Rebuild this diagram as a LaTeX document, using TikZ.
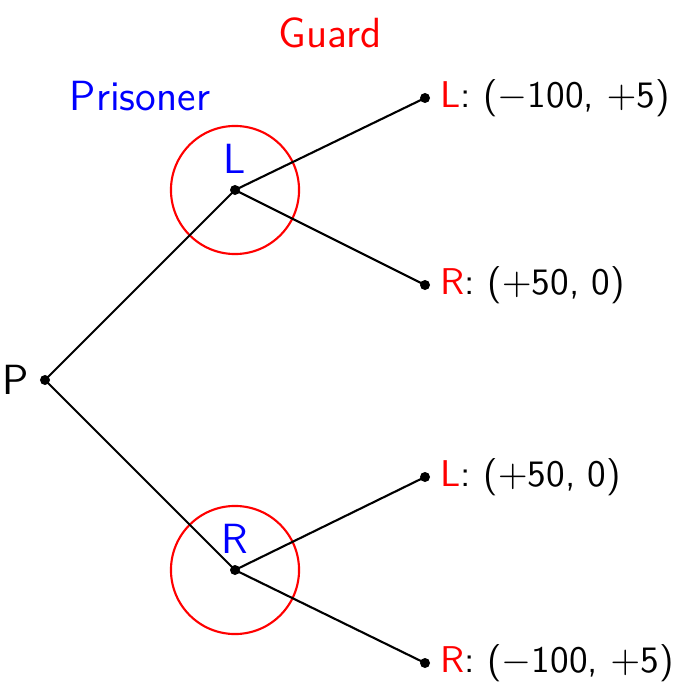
\documentclass[tikz,border=0pt]{standalone}
\usepackage{amsmath}
\usepackage{tikz}
\usetikzlibrary{positioning}

\begin{document}
\begin{tikzpicture}[
  x=0.01cm,y=-0.01cm,
  font=\large\sffamily,
  dot/.style={circle,fill=black,inner sep=0pt,minimum size=0.1cm},
  edge/.style={line width=0.6pt,black},
  infoset/.style={circle,draw=red,line width=0.6pt,minimum size=1.28cm,inner sep=0pt},
  player/.style={font=\large\sffamily,text=#1},
  payoff/.style={inner sep=0pt,anchor=west,font=\fontsize{10.6}{13}\selectfont\sffamily},
]
\useasboundingbox (0,0) rectangle (674,682);

% ==== PLAYERS ====
\node[player=red] (guard) at (330,33) {Guard};
\node[player=blue] (prisoner) at (140,96) {Prisoner};

% ==== PRISONER MOVE ====
\node[dot] (P) at (45,380) {};
\node[left=0.1cm of P,inner sep=0pt] (Plab) {P};

\node[dot] (L) at (235,190) {};
\node[dot] (R) at (235,570) {};
\node[player=blue,above=0.1cm of L,inner sep=0pt] (Llab) {L};
\node[player=blue,above=0.1cm of R,inner sep=0pt] (Rlab) {R};

% Guard's information sets
\node[infoset] (cL) at (L) {};
\node[infoset] (cR) at (R) {};

% ==== GUARD MOVES (leaves) ====
\node[dot] (LL) at (425,98) {};
\node[dot] (LR) at (425,285) {};
\node[dot] (RL) at (425,477) {};
\node[dot] (RR) at (425,663) {};

\node[payoff,right=0.09cm of LL] {\textcolor{red}{L}: (\(-\)100, \(+\)5)};
\node[payoff,right=0.09cm of LR] {\textcolor{red}{R}: (\(+\)50, 0)};
\node[payoff,right=0.09cm of RL] {\textcolor{red}{L}: (\(+\)50, 0)};
\node[payoff,right=0.09cm of RR] {\textcolor{red}{R}: (\(-\)100, \(+\)5)};

% Edges
\draw[edge] (P.center) -- (L.center);
\draw[edge] (P.center) -- (R.center);
\draw[edge] (L.center) -- (LL.center);
\draw[edge] (L.center) -- (LR.center);
\draw[edge] (R.center) -- (RL.center);
\draw[edge] (R.center) -- (RR.center);

\end{tikzpicture}
\end{document}
